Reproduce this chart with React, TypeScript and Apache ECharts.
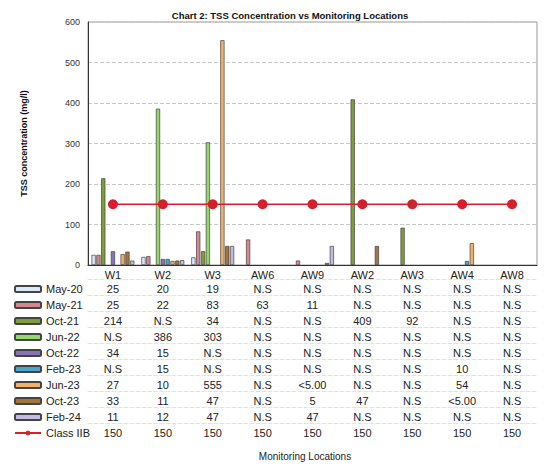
import React, { useEffect, useRef } from "react";
import * as echarts from "echarts";

const locations = ["W1", "W2", "W3", "AW6", "AW9", "AW2", "AW3", "AW4", "AW8"];
const may20 = ["25", "20", "19", "N.S", "N.S", "N.S", "N.S", "N.S", "N.S"];
const may21 = ["25", "22", "83", "63", "11", "N.S", "N.S", "N.S", "N.S"];
const oct21 = ["214", "N.S", "34", "N.S", "N.S", "409", "92", "N.S", "N.S"];
const jun22 = ["N.S", "386", "303", "N.S", "N.S", "N.S", "N.S", "N.S", "N.S"];
const oct22 = ["34", "15", "N.S", "N.S", "N.S", "N.S", "N.S", "N.S", "N.S"];
const feb23 = ["N.S", "15", "N.S", "N.S", "N.S", "N.S", "N.S", "10", "N.S"];
const jun23 = ["27", "10", "555", "N.S", "<5.00", "N.S", "N.S", "54", "N.S"];
const oct23 = ["33", "11", "47", "N.S", "5", "47", "N.S", "<5.00", "N.S"];
const feb24 = ["11", "12", "47", "N.S", "47", "N.S", "N.S", "N.S", "N.S"];
const classIIB = [150, 150, 150, 150, 150, 150, 150, 150, 150];

const barSeries = [
  { name: "May-20", values: may20, color: "#dce9f6" },
  { name: "May-21", values: may21, color: "#d88790" },
  { name: "Oct-21", values: oct21, color: "#7d9e3a" },
  { name: "Jun-22", values: jun22, color: "#97d56d" },
  { name: "Oct-22", values: oct22, color: "#8773b5" },
  { name: "Feb-23", values: feb23, color: "#4ea5c7" },
  { name: "Jun-23", values: jun23, color: "#f2b26c" },
  { name: "Oct-23", values: oct23, color: "#a3743e" },
  { name: "Feb-24", values: feb24, color: "#c3bce0" },
];

const toNum = (s: string) => (/^\d+(\.\d+)?$/.test(s) ? parseFloat(s) : null);

const FONT = "Liberation Sans, Arial, sans-serif";

export default function App() {
  const ref = useRef<HTMLDivElement>(null);
  useEffect(() => {
    document.body.style.margin = "0";
    const chart = echarts.init(ref.current!, null, { renderer: "svg" });
    const tableRows: string[][] = [
      ...barSeries.map((s) => s.values),
      classIIB.map((v) => String(v)),
    ];
    const idx = locations.map((_, i) => String(i));
    const rowAxes = tableRows.map((row, k) => ({
      type: "category",
      gridIndex: 0,
      position: "bottom",
      offset: 14 + 16 * k,
      data: idx,
      axisLine: { show: true, lineStyle: { color: "#e2e2e2", type: "dashed", width: 1 } },
      axisTick: { show: false },
      axisLabel: {
        interval: 0,
        margin: 4,
        fontSize: 11,
        fontFamily: FONT,
        color: "#222",
        formatter: (_v: string, i: number) => row[i],
      },
    }));
    const option: any = {
      animation: false,
      backgroundColor: "#ffffff",
      textStyle: { fontFamily: FONT },
      grid: {
        left: 88,
        right: 10,
        top: 22,
        bottom: 202,
        show: true,
        borderColor: "#999",
        borderWidth: 1,
      },
      legend: {
        orient: "vertical",
        left: 14,
        top: 281,
        padding: 0,
        itemGap: 0,
        itemWidth: 26,
        itemHeight: 6,
        textStyle: { fontSize: 11, fontFamily: FONT, color: "#222", lineHeight: 16 },
        data: [...barSeries.map((s) => s.name), "Class IIB"],
      },
      graphic: [
        {
          type: "text",
          x: 290,
          y: 15,
          style: {
            text: "Chart 2: TSS Concentration vs Monitoring Locations",
            font: "bold 9.5px Liberation Sans, Arial, sans-serif",
            fill: "#111",
            textAlign: "center",
            textVerticalAlign: "middle",
          },
        },
        {
          type: "text",
          x: 305,
          y: 456,
          style: {
            text: "Monitoring Locations",
            font: "10px Liberation Sans, Arial, sans-serif",
            fill: "#222",
            textAlign: "center",
            textVerticalAlign: "middle",
          },
        },
      ],
      xAxis: [
        {
          type: "category",
          data: locations,
          axisLine: { show: true, lineStyle: { color: "#333" } },
          axisTick: { show: false },
          axisLabel: { interval: 0, margin: 4, fontSize: 11, fontFamily: FONT, color: "#222" },
        },
        ...rowAxes,
      ],
      yAxis: {
        type: "value",
        min: 0,
        max: 600,
        interval: 100,
        name: "TSS concentration (mg/l)",
        nameLocation: "middle",
        nameGap: 60,
        nameTextStyle: { fontSize: 9, fontWeight: "bold", fontFamily: FONT, color: "#111" },
        axisLine: { show: true, lineStyle: { color: "#333" } },
        axisTick: { show: false },
        axisLabel: { fontSize: 9, fontFamily: FONT, color: "#333", margin: 8 },
        splitLine: { show: true, lineStyle: { color: "#c8c8c8", type: "dashed" } },
      },
      series: [
        ...barSeries.map((s) => ({
          name: s.name,
          type: "bar",
          xAxisIndex: 0,
          data: s.values.map(toNum),
          barGap: "15%",
          barCategoryGap: "14%",
          itemStyle: { color: s.color, borderColor: "#444", borderWidth: 0.7 },
        })),
        {
          name: "Class IIB",
          type: "line",
          xAxisIndex: 0,
          data: classIIB,
          symbol: "circle",
          symbolSize: 10,
          lineStyle: { color: "#d3202c", width: 1.5 },
          itemStyle: { color: "#d3202c" },
          z: 5,
        },
      ],
    };
    chart.setOption(option);
    return () => chart.dispose();
  }, []);
  return <div ref={ref} style={{ width: 547, height: 467 }} />;
}
